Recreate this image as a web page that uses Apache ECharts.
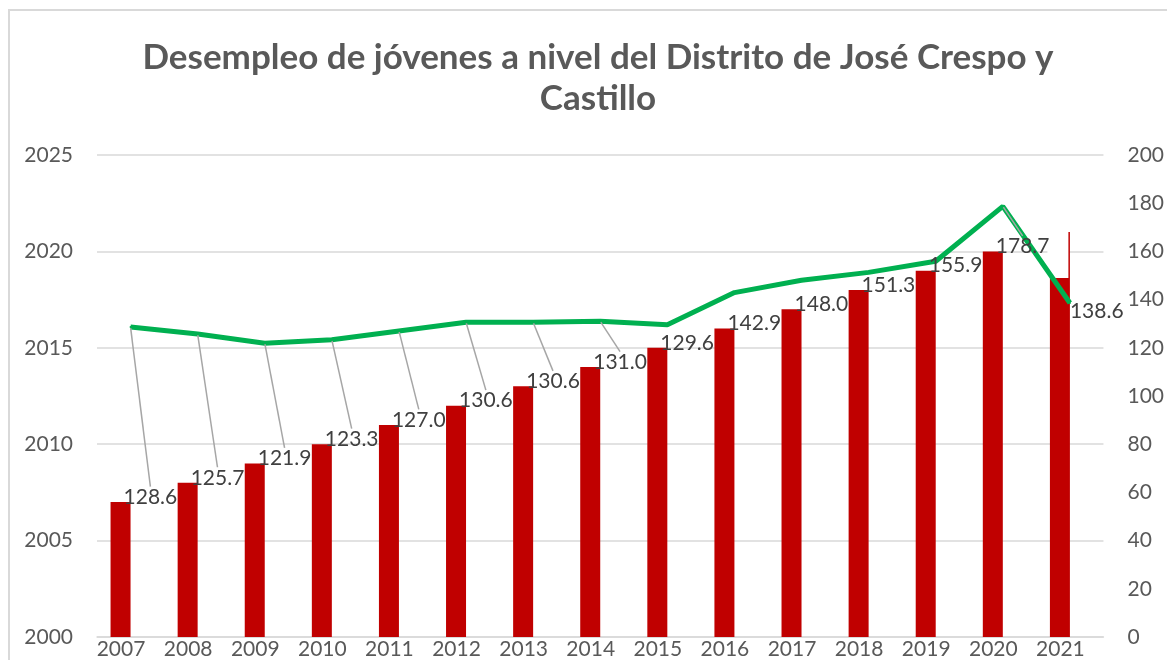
<!DOCTYPE html>
<html>
<head>
<meta charset="utf-8">
<title>Desempleo de jóvenes</title>
<script src="https://cdn.jsdelivr.net/npm/echarts@6/dist/echarts.min.js"></script>
<style>
  html, body { margin: 0; padding: 0; background: #fff; }
  #chart { width: 1167px; height: 660px; }
</style>
</head>
<body>
<div id="chart"></div>
<script>
// categorías (eje X)
const years = ["2007", "2008", "2009", "2010", "2011", "2012", "2013", "2014", "2015", "2016", "2017", "2018", "2019", "2020", "2021"];
// barras: valor del año (eje izquierdo)
const yearBars = [2007, 2008, 2009, 2010, 2011, 2012, 2013, 2014, 2015, 2016, 2017, 2018, 2019, 2020, 2021];
// línea: desempleo de jóvenes (eje derecho)
const desempleo = [128.6, 125.7, 121.9, 123.3, 127.0, 130.6, 130.6, 131.0, 129.6, 142.9, 148.0, 151.3, 155.9, 178.7, 138.6];
// ejes
const leftMin = 2000, leftMax = 2025, leftStep = 5;
const rightMin = 0, rightMax = 200, rightStep = 20;

const chart = echarts.init(document.getElementById("chart"));

const font = "Lato";
const gris = "#595959";

// la última barra aparece recortada en la imagen original
const barData = yearBars.map(function (v, i) {
  if (i !== yearBars.length - 1) return v;
  return {
    value: v,
    label: {
      show: true,
      position: "insideTop",
      distance: 0,
      formatter: " ",
      backgroundColor: "#fff",
      padding: 0,
      width: 21,
      height: 47,
      offset: [-2, -1],
    },
  };
});

// línea guía solo cuando la etiqueta queda lejos del punto (como en Excel)
const lineData = desempleo.map(function (v, i) {
  const gap = (v - rightMin) / (rightMax - rightMin) - (yearBars[i] - leftMin) / (leftMax - leftMin);
  return { value: v, labelLine: { show: i < desempleo.length - 1 && gap > 0.08 } };
});

const option = {
  animation: false,
  backgroundColor: "#fff",
  title: {
    text: "Desempleo de jóvenes a nivel del Distrito de José Crespo y\nCastillo",
    left: 598,
    textAlign: "center",
    top: 37,
    padding: 0,
    textStyle: {
      color: gris,
      fontFamily: font,
      fontWeight: "bold",
      fontSize: 35,
      lineHeight: 41,
    },
  },
  graphic: [
    {
      type: "rect",
      silent: true,
      z: -10,
      shape: { x: 9, y: 10, width: 1200, height: 700 },
      style: { fill: "none", stroke: "#d9d9d9", lineWidth: 2 },
    },
  ],
  grid: { left: 97, right: 63, top: 155, bottom: 22 },
  xAxis: [
    {
      type: "category",
      data: years,
      axisLine: { lineStyle: { color: "#d9d9d9", width: 1.5 } },
      axisTick: { show: false },
      axisLabel: {
        color: gris,
        fontFamily: font,
        fontSize: 21,
        margin: 2,
        padding: [0, 19, 0, 0],
      },
    },
  ],
  yAxis: [
    {
      type: "value",
      min: leftMin,
      max: leftMax,
      interval: leftStep,
      axisLine: { show: false },
      axisTick: { show: false },
      splitLine: { lineStyle: { color: "#d9d9d9", width: 1.5 } },
      axisLabel: {
        color: gris,
        fontFamily: font,
        fontSize: 21,
        margin: 24,
        formatter: function (v) { return String(v); },
      },
    },
    {
      type: "value",
      min: rightMin,
      max: rightMax,
      interval: rightStep,
      axisLine: { show: false },
      axisTick: { show: false },
      splitLine: { show: false },
      axisLabel: { color: gris, fontFamily: font, fontSize: 21, margin: 24 },
    },
  ],
  series: [
    {
      name: "Año",
      type: "bar",
      yAxisIndex: 0,
      barWidth: 20,
      barGap: "0%",
      itemStyle: { color: "#c00000" },
      data: barData,
    },
    {
      // serie vacía: desplaza las barras a la izquierda como en Excel
      name: "vacío",
      type: "bar",
      yAxisIndex: 0,
      barWidth: 20,
      barGap: "0%",
      data: [],
    },
    {
      name: "Desempleo",
      type: "line",
      yAxisIndex: 1,
      z: 3,
      symbol: "circle",
      symbolSize: 2,
      showSymbol: true,
      itemStyle: { color: "#00b050" },
      lineStyle: { color: "#00b050", width: 5 },
      label: {
        show: true,
        color: "#404040",
        fontFamily: font,
        fontSize: 21,
        formatter: function (p) {
          return Number(p.value).toFixed(1);
        },
      },
      labelLine: {
        show: true,
        length2: 0,
        lineStyle: { color: "#a6a6a6", width: 1.5 },
      },
      labelLayout: function (p) {
        const i = p.dataIndex;
        const px = p.rect.x + p.rect.width / 2;
        const py = p.rect.y + p.rect.height / 2;
        if (i === desempleo.length - 1) {
          return { x: px, y: py + 8, align: "left", verticalAlign: "middle" };
        }
        const barTop = chart.convertToPixel({ yAxisIndex: 0 }, yearBars[i]);
        return { x: px - 7, y: barTop - 5, align: "left", verticalAlign: "middle" };
      },
      data: lineData,
    },
  ],
};

chart.setOption(option);
</script>
</body>
</html>
